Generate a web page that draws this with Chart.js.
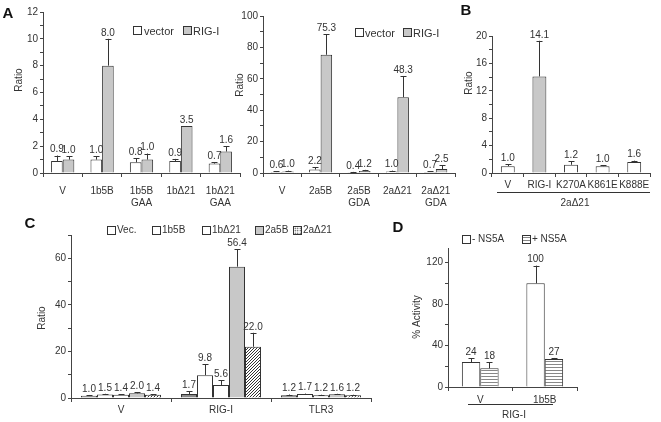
<!DOCTYPE html>
<html>
<head>
<meta charset="utf-8">
<script src="https://cdn.jsdelivr.net/npm/chart.js@4.4.0/dist/chart.umd.min.js"></script>
<style>
  body { margin: 0; background: #fff; font-family: "Liberation Sans", Arial, sans-serif; color: #333; }
  #fig { position: relative; width: 661px; height: 422px; overflow: hidden; }
  canvas { position: absolute; }
  .abs { position: absolute; white-space: nowrap; line-height: 12px; }
  .c { transform: translate(-50%, -50%); }
  .letter { font-weight: bold; font-size: 15px; color: #111; }
  .leg { font-size: 11px; }
  .legs { font-size: 10px; }
  .box { position: absolute; width: 7px; height: 7px; border: 1px solid #333; background: #fff; }
  .grey { background: #c8c8c8; }
  .dots { background-color: #fff; background-image: radial-gradient(#222 0.6px, transparent 0.9px); background-size: 2.5px 2.5px; }
  .stripes { background: repeating-linear-gradient(to bottom, #fff 0 1px, #888 1px 2px, #fff 2px 3px); }
  .line { position: absolute; height: 1px; background: #333; }
</style>
</head>
<body>
<div id="fig">
  <canvas id="aLeft" width="245" height="210" style="left:0;top:0"></canvas>
  <canvas id="aRight" width="240" height="210" style="left:220px;top:0"></canvas>
  <canvas id="panelB" width="211" height="230" style="left:450px;top:0"></canvas>
  <canvas id="panelC" width="380" height="202" style="left:0;top:220px"></canvas>
  <canvas id="panelD" width="200" height="182" style="left:390px;top:240px"></canvas>

  <div class="abs c letter" style="left:8px;top:13px">A</div>
  <div class="abs c letter" style="left:466px;top:10px">B</div>
  <div class="abs c letter" style="left:30px;top:223px">C</div>
  <div class="abs c letter" style="left:398px;top:227px">D</div>

  <!-- legend A left -->
  <div class="box" style="left:133px;top:26px"></div>
  <div class="abs leg" style="left:144px;top:25px">vector</div>
  <div class="box grey" style="left:183px;top:26px"></div>
  <div class="abs leg" style="left:193px;top:25px">RIG-I</div>
  <!-- legend A right -->
  <div class="box" style="left:355px;top:28px"></div>
  <div class="abs leg" style="left:365px;top:27px">vector</div>
  <div class="box grey" style="left:403px;top:28px"></div>
  <div class="abs leg" style="left:413px;top:27px">RIG-I</div>

  <!-- legend C -->
  <div class="box" style="left:107px;top:226px"></div>
  <div class="abs legs" style="left:117px;top:224px">Vec.</div>
  <div class="box" style="left:152px;top:226px"></div>
  <div class="abs legs" style="left:162px;top:224px">1b5B</div>
  <div class="box" style="left:202px;top:226px"></div>
  <div class="abs legs" style="left:212px;top:224px">1bΔ21</div>
  <div class="box grey" style="left:255px;top:226px"></div>
  <div class="abs legs" style="left:265px;top:224px">2a5B</div>
  <div class="box dots" style="left:293px;top:226px"></div>
  <div class="abs legs" style="left:303px;top:224px">2aΔ21</div>

  <!-- legend D -->
  <div class="box" style="left:462px;top:235px"></div>
  <div class="abs legs" style="left:472px;top:233px">- NS5A</div>
  <div class="box stripes" style="left:522px;top:235px"></div>
  <div class="abs legs" style="left:532px;top:233px">+ NS5A</div>

  <!-- group labels under B and D -->
  <div class="line" style="left:497px;top:192px;width:153px"></div>
  <div class="abs c legs" style="left:575px;top:203px">2aΔ21</div>
  <div class="line" style="left:468px;top:404px;width:85px"></div>
  <div class="abs c legs" style="left:514px;top:415px">RIG-I</div>
</div>

<script>
// ---- panel A, left: HCV 1b constructs
const aLeftCats = ['V', '1b5B', ['1b5B', 'GAA'], '1bΔ21', ['1bΔ21', 'GAA']];
const aLeftVector = [0.9, 1.0, 0.8, 0.9, 0.7];
const aLeftVectorErr = [0.4, 0.25, 0.3, 0.15, 0.1];
const aLeftRig = [1.0, 8.0, 1.0, 3.5, 1.6];
const aLeftRigErr = [0.25, 2.0, 0.45, 0, 0.4];
const aLeftTicks = [0, 1, 2, 3, 4, 5, 6, 7, 8, 9, 10, 11, 12];

// ---- panel A, right: HCV 2a constructs
const aRightCats = ['V', '2a5B', ['2a5B', 'GDA'], '2aΔ21', ['2aΔ21', 'GDA']];
const aRightVector = [0.6, 2.2, 0.4, 1.0, 0.7];
const aRightVectorErr = [0.4, 1.4, 0.3, 0.5, 0.3];
const aRightRig = [1.0, 75.3, 1.2, 48.3, 2.5];
const aRightRigErr = [0.5, 13.0, 0.8, 13.5, 2.5];
const aRightTicks = [0, 10, 20, 30, 40, 50, 60, 70, 80, 90, 100];

// ---- panel B: RIG-I mutants with 2aΔ21
const bCats = ['V', 'RIG-I', 'K270A', 'K861E', 'K888E'];
const bValues = [1.0, 14.1, 1.2, 1.0, 1.6];
const bErr = [0.3, 5.2, 0.5, 0.1, 0.2];
const bTicks = [0, 2, 4, 6, 8, 10, 12, 14, 16, 18, 20];

// ---- panel C
const cCats = ['V', 'RIG-I', 'TLR3'];
const cSeries = ['Vec.', '1b5B', '1bΔ21', '2a5B', '2aΔ21'];
const cVec = [1.0, 1.7, 1.2];
const c1b5B = [1.5, 9.8, 1.7];
const c1bD21 = [1.4, 5.6, 1.2];
const c2a5B = [2.0, 56.4, 1.6];
const c2aD21 = [1.4, 22.0, 1.2];
const cVecErr = [0.3, 1.1, 0.3];
const c1b5BErr = [0.3, 4.6, 0.2];
const c1bD21Err = [0.2, 2.0, 0.2];
const c2a5BErr = [0.4, 7.4, 0.2];
const c2aD21Err = [0.3, 6.0, 0.2];
const cTicks = [0, 10, 20, 30, 40, 50, 60, 70];

// ---- panel D
const dCats = ['V', '1b5B'];
const dMinus = [24, 100];
const dMinusErr = [3.7, 17];
const dPlus = [18, 27];
const dPlusErr = [6, 1];
const dTicks = [0, 20, 40, 60, 80, 100, 120];

const INK = '#333';
const LIGHT = '#c8c8c8';

function makePattern(kind) {
  const p = document.createElement('canvas');
  const g = p.getContext('2d');
  if (kind === 'stripes') {
    p.width = 4; p.height = 3;
    g.fillStyle = '#fff'; g.fillRect(0, 0, 4, 3);
    g.fillStyle = '#888'; g.fillRect(0, 1, 4, 1);
  } else {
    p.width = 3; p.height = 3;
    g.fillStyle = '#fff'; g.fillRect(0, 0, 3, 3);
    g.fillStyle = '#333'; g.fillRect(0, 0, 1, 1); g.fillRect(1, 2, 1, 1); g.fillRect(2, 1, 1, 1);
  }
  return g.createPattern(p, 'repeat');
}

// error bars, value labels and rotated y title
const annotate = {
  id: 'annotate',
  afterDatasetsDraw(chart, args, opts) {
    const ctx = chart.ctx;
    const y = chart.scales.y;
    ctx.save();
    ctx.strokeStyle = INK;
    ctx.fillStyle = INK;
    ctx.lineWidth = 1;
    ctx.font = '10px "Liberation Sans", Arial, sans-serif';
    ctx.textAlign = 'center';
    ctx.textBaseline = 'bottom';
    chart.data.datasets.forEach((ds, i) => {
      chart.getDatasetMeta(i).data.forEach((bar, j) => {
        const v = ds.data[j];
        const e = ds.err ? ds.err[j] : 0;
        const top = y.getPixelForValue(v + e);
        const x = Math.round(bar.x) + 0.5;
        if (e > 0) {
          ctx.beginPath();
          ctx.moveTo(x, bar.y);
          ctx.lineTo(x, top);
          ctx.moveTo(x - 3, Math.round(top) + 0.5);
          ctx.lineTo(x + 3, Math.round(top) + 0.5);
          ctx.stroke();
        }
        ctx.fillText(v.toFixed(opts.digits), bar.x, top - 1);
      });
    });
    if (opts.title) {
      ctx.translate(opts.title.x, opts.title.y);
      ctx.rotate(-Math.PI / 2);
      ctx.textBaseline = 'middle';
      ctx.fillText(opts.title.text, 0, 0);
    }
    ctx.restore();
  }
};

function yAxis(max, ticks, every, width) {
  return {
    min: 0,
    max: max,
    afterBuildTicks: s => { s.ticks = ticks.map(v => ({ value: v })); },
    afterFit: s => { s.width = width; },
    grid: { drawOnChartArea: false, drawTicks: true, tickLength: 3, color: '#444' },
    border: { display: true, color: '#444' },
    ticks: {
      autoSkip: false, padding: 2, color: INK,
      font: { size: 10, family: '"Liberation Sans", Arial, sans-serif' },
      callback: v => (v % every === 0 ? v : '')
    }
  };
}

function xAxis(height, pad) {
  return {
    afterFit: s => { s.height = height; },
    grid: { drawOnChartArea: false, drawTicks: true, tickLength: 4, offset: true, color: '#444' },
    border: { display: true, color: '#444' },
    ticks: {
      autoSkip: false, maxRotation: 0, padding: pad, color: INK,
      font: { size: 10, family: '"Liberation Sans", Arial, sans-serif' }
    }
  };
}

function bars(label, data, err, fill, cp) {
  return {
    label: label, data: data, err: err,
    backgroundColor: fill, borderColor: INK, borderWidth: 1,
    categoryPercentage: cp, barPercentage: 1
  };
}

function drawChart(id, labels, datasets, cfg) {
  new Chart(document.getElementById(id), {
    type: 'bar',
    data: { labels: labels, datasets: datasets },
    options: {
      responsive: false,
      animation: false,
      layout: { padding: cfg.padding },
      scales: { x: cfg.x, y: cfg.y },
      plugins: {
        legend: { display: false },
        tooltip: { enabled: false },
        annotate: { digits: cfg.digits, title: cfg.title }
      }
    },
    plugins: [annotate]
  });
}

const stripes = makePattern('stripes');
const dots = makePattern('dots');

drawChart('aLeft', aLeftCats, [
  bars('vector', aLeftVector, aLeftVectorErr, '#fff', 0.59),
  bars('RIG-I', aLeftRig, aLeftRigErr, LIGHT, 0.59)
], {
  padding: { top: 12, right: 5, left: 0, bottom: 0 },
  x: xAxis(37, 8), y: yAxis(12, aLeftTicks, 2, 43),
  digits: 1, title: { text: 'Ratio', x: 19, y: 80 }
});

drawChart('aRight', aRightCats, [
  bars('vector', aRightVector, aRightVectorErr, '#fff', 0.6),
  bars('RIG-I', aRightRig, aRightRigErr, LIGHT, 0.6)
], {
  padding: { top: 16, right: 5, left: 0, bottom: 0 },
  x: xAxis(37, 8), y: yAxis(100, aRightTicks, 20, 43),
  digits: 1, title: { text: 'Ratio', x: 20, y: 85 }
});

drawChart('panelB', bCats, [
  bars('2aΔ21', bValues, bErr, ['#fff', LIGHT, '#fff', '#fff', '#fff'], 0.44)
], {
  padding: { top: 36, right: 11, left: 0, bottom: 0 },
  x: xAxis(57, 2), y: yAxis(20, bTicks, 4, 42),
  digits: 1, title: { text: 'Ratio', x: 19, y: 83 }
});

drawChart('panelC', cCats, [
  bars(cSeries[0], cVec, cVecErr, '#8a8a8a', 0.8),
  bars(cSeries[1], c1b5B, c1b5BErr, '#fff', 0.8),
  bars(cSeries[2], c1bD21, c1bD21Err, '#fff', 0.8),
  bars(cSeries[3], c2a5B, c2a5BErr, LIGHT, 0.8),
  bars(cSeries[4], c2aD21, c2aD21Err, dots, 0.8)
], {
  padding: { top: 15, right: 9, left: 0, bottom: 0 },
  x: xAxis(24, 2), y: yAxis(70, cTicks, 20, 71),
  digits: 1, title: { text: 'Ratio', x: 42, y: 98 }
});

drawChart('panelD', dCats, [
  bars('- NS5A', dMinus, dMinusErr, '#fff', 0.57),
  bars('+ NS5A', dPlus, dPlusErr, stripes, 0.57)
], {
  padding: { top: 5, right: 13, left: 0, bottom: 0 },
  x: xAxis(35, 3), y: yAxis(134, dTicks, 40, 58),
  digits: 0, title: { text: '% Activity', x: 27, y: 77 }
});
</script>
</body>
</html>
